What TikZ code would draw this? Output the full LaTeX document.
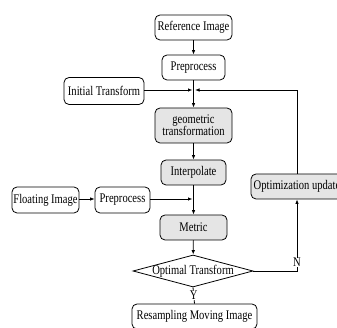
\documentclass[tikz,border=0pt]{standalone}
\usepackage{fontspec}
\setmainfont{Liberation Serif}[FakeStretch=0.8]
\usetikzlibrary{arrows.meta,shapes.geometric}
\tikzset{
  box/.style={draw, rounded corners=5pt, line width=0.8pt, inner sep=1pt, align=center,
    font=\fontsize{13.2}{13}\selectfont},
  shaded/.style={box, fill=black!10},
  lbl/.style={fill=white, inner sep=0.5pt, font=\fontsize{13.2}{13}\selectfont},
  conn/.style={line width=0.8pt},
  arr/.style={conn, -{Latex[length=4.5pt,width=3.5pt]}},
}
\begin{document}
\begin{tikzpicture}[x=1pt,y=-1pt]
\useasboundingbox (0,0) rectangle (337,328);
\clip (0,0) rectangle (337,328);
\node[box, minimum width=77pt, minimum height=25pt] (ref) at (193.5,27.5) {Reference Image};
\node[box, minimum width=63pt, minimum height=25pt] (pre1) at (193.5,67.5) {Preprocess};
\node[box, minimum width=80pt, minimum height=27pt] (init) at (104,91) {Initial Transform};
\node[shaded, minimum width=77pt, minimum height=35pt] (geo) at (193.5,125.5) {geometric\\[-1pt]transformation};
\node[shaded, minimum width=65pt, minimum height=25pt] (interp) at (193.5,172.5) {Interpolate};
\node[box, minimum width=67pt, minimum height=26pt] (float) at (45.5,200) {Floating Image};
\node[box, minimum width=55pt, minimum height=26pt] (pre2) at (122.5,200) {Preprocess};
\node[shaded, minimum width=67pt, minimum height=25pt] (metric) at (193.5,227.5) {Metric};
\node[draw, diamond, line width=0.8pt, inner sep=0pt, minimum width=120pt, minimum height=32pt,
  label={[lbl, fill=none]center:Optimal Transform}] (opt) at (193,271) {};
\node[box, minimum width=125pt, minimum height=25pt] (res) at (194.5,316.5) {Resampling Moving Image};
\node[shaded, minimum width=92pt, minimum height=25pt] (upd) at (297,186.5) {Optimization update};

\coordinate (j1) at (193.5,90);
\coordinate (j2) at (193.5,199);
\coordinate (c1) at (297,90);
\coordinate (c2) at (297,271);

\draw[arr] (ref) -- (pre1);
\draw[arr] (pre1) -- (geo);
\draw[arr] (init.east |- j1) -- ([xshift=-1pt]j1);
\draw[arr] (upd.north) -- (c1) -- ([xshift=1.5pt]j1);
\draw[arr] (geo) -- (interp);
\draw[arr] (interp) -- (metric);
\draw[arr] (float.east |- j2) -- (pre2.west |- j2);
\draw[arr] (pre2.east |- j2) -- ([xshift=-1pt]j2);
\draw[arr] (metric) -- (opt);
\draw[conn] (opt.south) -- (res.north) node[lbl, pos=0.5] {Y};
\draw[arr] (opt.east) -- (c2) -- (upd.south) node[lbl, pos=0.12] {N};
\end{tikzpicture}
\end{document}
